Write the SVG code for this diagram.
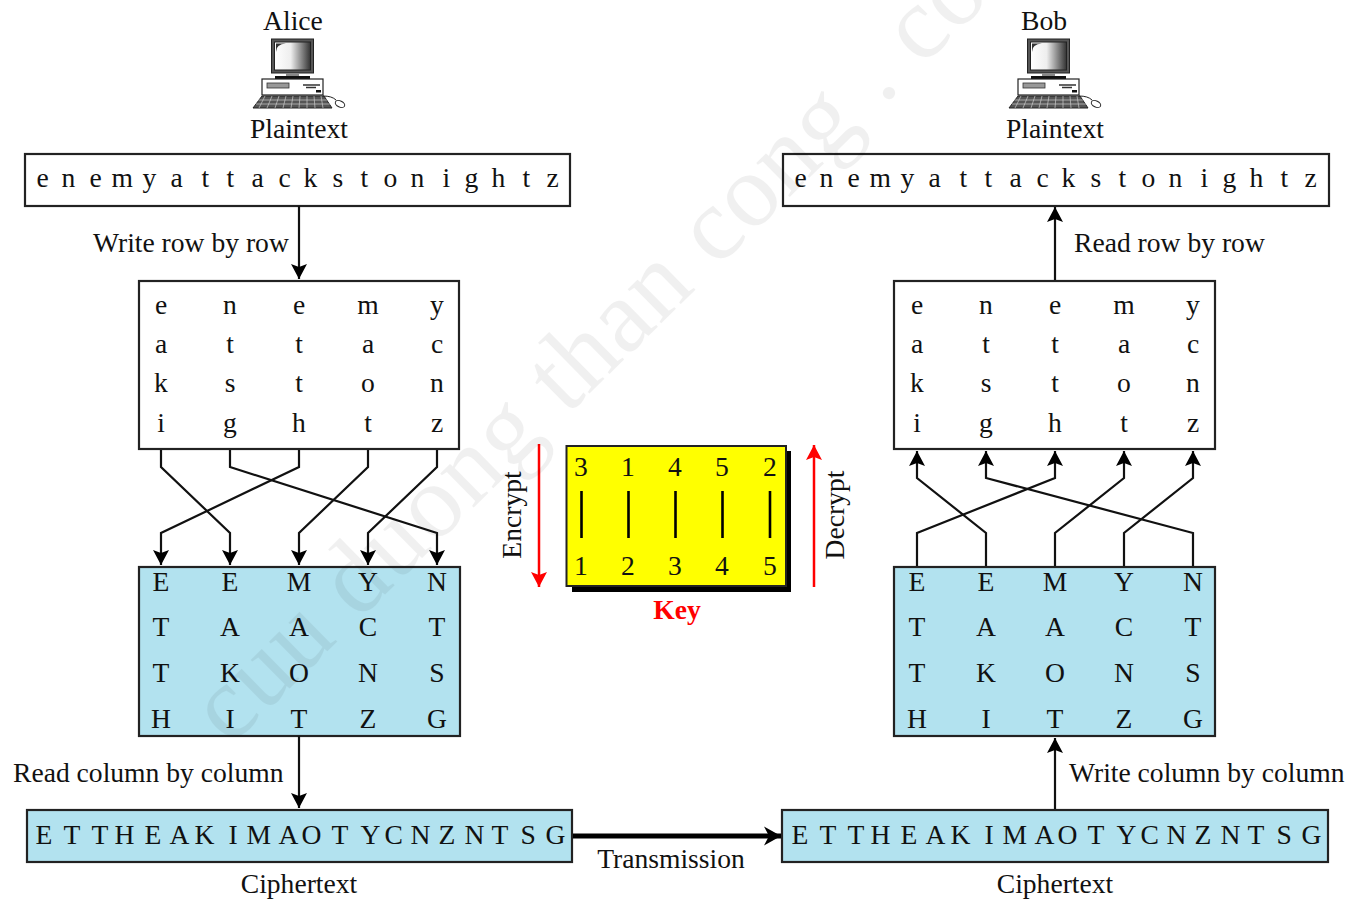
<svg xmlns="http://www.w3.org/2000/svg" width="1348" height="900" viewBox="0 0 1348 900">
<style>
text{font-family:"Liberation Serif","Times New Roman",serif;font-size:27.6px;fill:#111}
.m{text-anchor:middle}
.box{fill:#fff;stroke:#222;stroke-width:2.2}
.blue{fill:#b2e2ef;stroke:#222;stroke-width:2.2}
.c{fill:none;stroke:#111;stroke-width:2.2;stroke-linejoin:miter}
.wm{font-size:104px;fill:#000;opacity:.055;letter-spacing:1px}
</style>
<defs>
<marker id="a" markerUnits="userSpaceOnUse" markerWidth="18" markerHeight="18" refX="16" refY="9" orient="auto"><path d="M1 1 L16 9 L1 17 L4 9Z" fill="#000"/></marker>
<marker id="t" markerUnits="userSpaceOnUse" markerWidth="20" markerHeight="22" refX="18" refY="11" orient="auto"><path d="M1 1.500 L18 11 L1 20.500 L6 11Z" fill="#000"/></marker>
<marker id="r" markerUnits="userSpaceOnUse" markerWidth="16" markerHeight="18" refX="15" refY="8" orient="auto"><path d="M0 0 L15 8 L0 16 L3 8Z" fill="#f00"/></marker>
<linearGradient id="scr" x1="0" x2="1" y1="0" y2="0"><stop offset="0" stop-color="#fff"/><stop offset=".45" stop-color="#eee"/><stop offset="1" stop-color="#333"/></linearGradient>
<g id="pc">
<rect x="271.500" y="39" width="42" height="34" fill="#555" stroke="#222" stroke-width="1"/>
<rect x="274.500" y="42" width="36" height="28" fill="url(#scr)" stroke="#222" stroke-width="1"/>
<path d="M276 52 Q276 44 286 43.500 L276 43.500Z" fill="#333"/>
<rect x="286" y="73" width="13" height="3" fill="#888"/>
<rect x="275" y="76" width="35" height="3" fill="#111"/>
<rect x="262" y="79" width="61" height="16" fill="#fff" stroke="#222" stroke-width="1.200"/>
<rect x="267" y="83" width="22" height="5" fill="#999" stroke="#333" stroke-width=".8"/>
<path d="M303 85 H320 M306 87.500 H316" stroke="#333" stroke-width="1.500"/>
<rect x="316" y="90" width="5" height="2.500" fill="#111"/>
<path d="M262 96 H324 L332 108 H253Z" fill="#555" stroke="#222" stroke-width="1"/>
<path d="M258 100 H327 M256 104 H330 M265 96 L259 108 M272 96 L267 108 M279 96 L275 108 M286 96 L283 108 M293 96 L291 108 M300 96 L299 108 M307 96 L307 108 M314 96 L315 108 M321 96 L323 108" stroke="#ccc" stroke-width=".7" fill="none"/>
<path d="M323 96 Q332 96 336 100" fill="none" stroke="#222" stroke-width="1"/>
<ellipse cx="340" cy="104" rx="5" ry="3" transform="rotate(25 340 104)" fill="#fff" stroke="#222" stroke-width="1"/>
</g>
</defs>
<rect width="1348" height="900" fill="#fff"/>

<g id="alice"><text class="m" x="293" y="30">Alice</text><use href="#pc"/><text class="m" x="299" y="138">Plaintext</text></g>
<g id="bob"><text class="m" x="1044" y="30">Bob</text><use href="#pc" x="756"/><text class="m" x="1055" y="138">Plaintext</text></g>

<g id="plain-left"><rect class="box" x="25" y="154" width="545" height="52"/><text x="36.500 55 61.500 83 89.500 105 111.500 136 142.500 164 170.500 195 201.500 220 226.500 245 251.500 272 278.500 297 303.500 326 332.500 354 360.500 377 383.500 404 410.500 436 442.500 458 464.500 485 491.500 516 522.500 540 546.500" y="187">e n e m y a t t a c k s t o n i g h t z</text></g>
<g id="plain-right"><rect class="box" x="783" y="154" width="546" height="52"/><text transform="translate(758 0)" x="36.500 55 61.500 83 89.500 105 111.500 136 142.500 164 170.500 195 201.500 220 226.500 245 251.500 272 278.500 297 303.500 326 332.500 354 360.500 377 383.500 404 410.500 436 442.500 458 464.500 485 491.500 516 522.500 540 546.500" y="187">e n e m y a t t a c k s t o n i g h t z</text></g>

<g id="grid-left"><rect class="box" x="139" y="281" width="320" height="168"/>
<text class="m" x="161" y="314">e</text><text class="m" x="230" y="314">n</text><text class="m" x="299" y="314">e</text><text class="m" x="368" y="314">m</text><text class="m" x="437" y="314">y</text>
<text class="m" x="161" y="353">a</text><text class="m" x="230" y="353">t</text><text class="m" x="299" y="353">t</text><text class="m" x="368" y="353">a</text><text class="m" x="437" y="353">c</text>
<text class="m" x="161" y="392">k</text><text class="m" x="230" y="392">s</text><text class="m" x="299" y="392">t</text><text class="m" x="368" y="392">o</text><text class="m" x="437" y="392">n</text>
<text class="m" x="161" y="432">i</text><text class="m" x="230" y="432">g</text><text class="m" x="299" y="432">h</text><text class="m" x="368" y="432">t</text><text class="m" x="437" y="432">z</text>
</g>
<g id="grid-right"><rect class="box" x="894" y="281" width="321" height="168"/>
<text class="m" x="917" y="314">e</text><text class="m" x="986" y="314">n</text><text class="m" x="1055" y="314">e</text><text class="m" x="1124" y="314">m</text><text class="m" x="1193" y="314">y</text>
<text class="m" x="917" y="353">a</text><text class="m" x="986" y="353">t</text><text class="m" x="1055" y="353">t</text><text class="m" x="1124" y="353">a</text><text class="m" x="1193" y="353">c</text>
<text class="m" x="917" y="392">k</text><text class="m" x="986" y="392">s</text><text class="m" x="1055" y="392">t</text><text class="m" x="1124" y="392">o</text><text class="m" x="1193" y="392">n</text>
<text class="m" x="917" y="432">i</text><text class="m" x="986" y="432">g</text><text class="m" x="1055" y="432">h</text><text class="m" x="1124" y="432">t</text><text class="m" x="1193" y="432">z</text>
</g>

<g id="cols-left"><rect class="blue" x="139" y="567" width="321" height="169"/>
<text class="m" x="161" y="591">E</text><text class="m" x="230" y="591">E</text><text class="m" x="299" y="591">M</text><text class="m" x="368" y="591">Y</text><text class="m" x="437" y="591">N</text>
<text class="m" x="161" y="636">T</text><text class="m" x="230" y="636">A</text><text class="m" x="299" y="636">A</text><text class="m" x="368" y="636">C</text><text class="m" x="437" y="636">T</text>
<text class="m" x="161" y="682">T</text><text class="m" x="230" y="682">K</text><text class="m" x="299" y="682">O</text><text class="m" x="368" y="682">N</text><text class="m" x="437" y="682">S</text>
<text class="m" x="161" y="728">H</text><text class="m" x="230" y="728">I</text><text class="m" x="299" y="728">T</text><text class="m" x="368" y="728">Z</text><text class="m" x="437" y="728">G</text>
</g>
<g id="cols-right"><rect class="blue" x="894" y="567" width="321" height="169"/>
<text class="m" x="917" y="591">E</text><text class="m" x="986" y="591">E</text><text class="m" x="1055" y="591">M</text><text class="m" x="1124" y="591">Y</text><text class="m" x="1193" y="591">N</text>
<text class="m" x="917" y="636">T</text><text class="m" x="986" y="636">A</text><text class="m" x="1055" y="636">A</text><text class="m" x="1124" y="636">C</text><text class="m" x="1193" y="636">T</text>
<text class="m" x="917" y="682">T</text><text class="m" x="986" y="682">K</text><text class="m" x="1055" y="682">O</text><text class="m" x="1124" y="682">N</text><text class="m" x="1193" y="682">S</text>
<text class="m" x="917" y="728">H</text><text class="m" x="986" y="728">I</text><text class="m" x="1055" y="728">T</text><text class="m" x="1124" y="728">Z</text><text class="m" x="1193" y="728">G</text>
</g>

<g id="cipher-left"><rect class="blue" x="27" y="810" width="545" height="52"/><text x="35.500 57 63.500 85 91.500 108 114.500 138 144.500 163 169.500 188 194.500 222 228.500 240 246.500 272 278.500 295 301.500 325 331.500 354 360.500 378 384.500 404 410.500 432 438.500 458 464.500 485 491.500 514 520.500 539 545.500" y="844">E T T H E A K I M A O T Y C N Z N T S G</text></g>
<g id="cipher-right"><rect class="blue" x="782" y="810" width="546" height="52"/><text transform="translate(756 0)" x="35.500 57 63.500 85 91.500 108 114.500 138 144.500 163 169.500 188 194.500 222 228.500 240 246.500 272 278.500 295 301.500 325 331.500 354 360.500 378 384.500 404 410.500 432 438.500 458 464.500 485 491.500 514 520.500 539 545.500" y="844">E T T H E A K I M A O T Y C N Z N T S G</text></g>

<g id="key">
<rect x="572" y="451" width="219" height="141" fill="#000"/>
<rect x="566.500" y="446" width="219.500" height="140" fill="#ff0" stroke="#222" stroke-width="2"/>
<text class="m" x="581" y="476">3</text><text class="m" x="628" y="476">1</text><text class="m" x="675" y="476">4</text><text class="m" x="722" y="476">5</text><text class="m" x="770" y="476">2</text>
<path d="M581.500 491V538M628.500 491V538M675.500 491V538M722.500 491V538M770 491V538" stroke="#000" stroke-width="2.600"/>
<text class="m" x="581" y="575">1</text><text class="m" x="628" y="575">2</text><text class="m" x="675" y="575">3</text><text class="m" x="722" y="575">4</text><text class="m" x="770" y="575">5</text>
<text class="m" x="677" y="619" style="font-weight:bold;fill:#f00">Key</text>
</g>

<g id="connectors">
<path class="c" marker-end="url(#a)" d="M299 206V279"/>
<path class="c" marker-end="url(#a)" d="M161 450V467L230 533V565"/>
<path class="c" marker-end="url(#a)" d="M230 450V467L437 533V565"/>
<path class="c" marker-end="url(#a)" d="M299 450V467L161 533V565"/>
<path class="c" marker-end="url(#a)" d="M368 450V467L299 533V565"/>
<path class="c" marker-end="url(#a)" d="M437 450V467L368 533V565"/>
<path class="c" marker-end="url(#a)" d="M299 736V808"/>
<path class="c" marker-end="url(#a)" d="M1055 280V207"/>
<path class="c" marker-end="url(#a)" d="M917 566V533L1055 478V451"/>
<path class="c" marker-end="url(#a)" d="M986 566V533L917 478V451"/>
<path class="c" marker-end="url(#a)" d="M1055 566V533L1124 478V451"/>
<path class="c" marker-end="url(#a)" d="M1124 566V533L1193 478V451"/>
<path class="c" marker-end="url(#a)" d="M1193 566V533L986 478V451"/>
<path class="c" marker-end="url(#a)" d="M1055 809V738"/>
<path class="c" style="stroke-width:5;stroke:#000" marker-end="url(#t)" d="M573 836H781"/>
<path fill="none" stroke="#f00" stroke-width="2.500" marker-end="url(#r)" d="M539 444V587"/>
<path fill="none" stroke="#f00" stroke-width="2.500" marker-end="url(#r)" d="M814 587V445"/>
</g>

<g id="labels">
<text x="93" y="252">Write row by row</text>
<text x="1074" y="252">Read row by row</text>
<text x="13" y="782">Read column by column</text>
<text x="1069" y="782">Write column by column</text>
<text class="m" x="671" y="868">Transmission</text>
<text class="m" x="299" y="893">Ciphertext</text>
<text class="m" x="1055" y="893">Ciphertext</text>
<text class="m" transform="translate(521 515) rotate(-90)">Encrypt</text>
<text class="m" transform="translate(844 515) rotate(-90)">Decrypt</text>
</g>

<text class="wm" transform="translate(230 747) rotate(-44.500)">cuu duong than cong . co</text>
</svg>
